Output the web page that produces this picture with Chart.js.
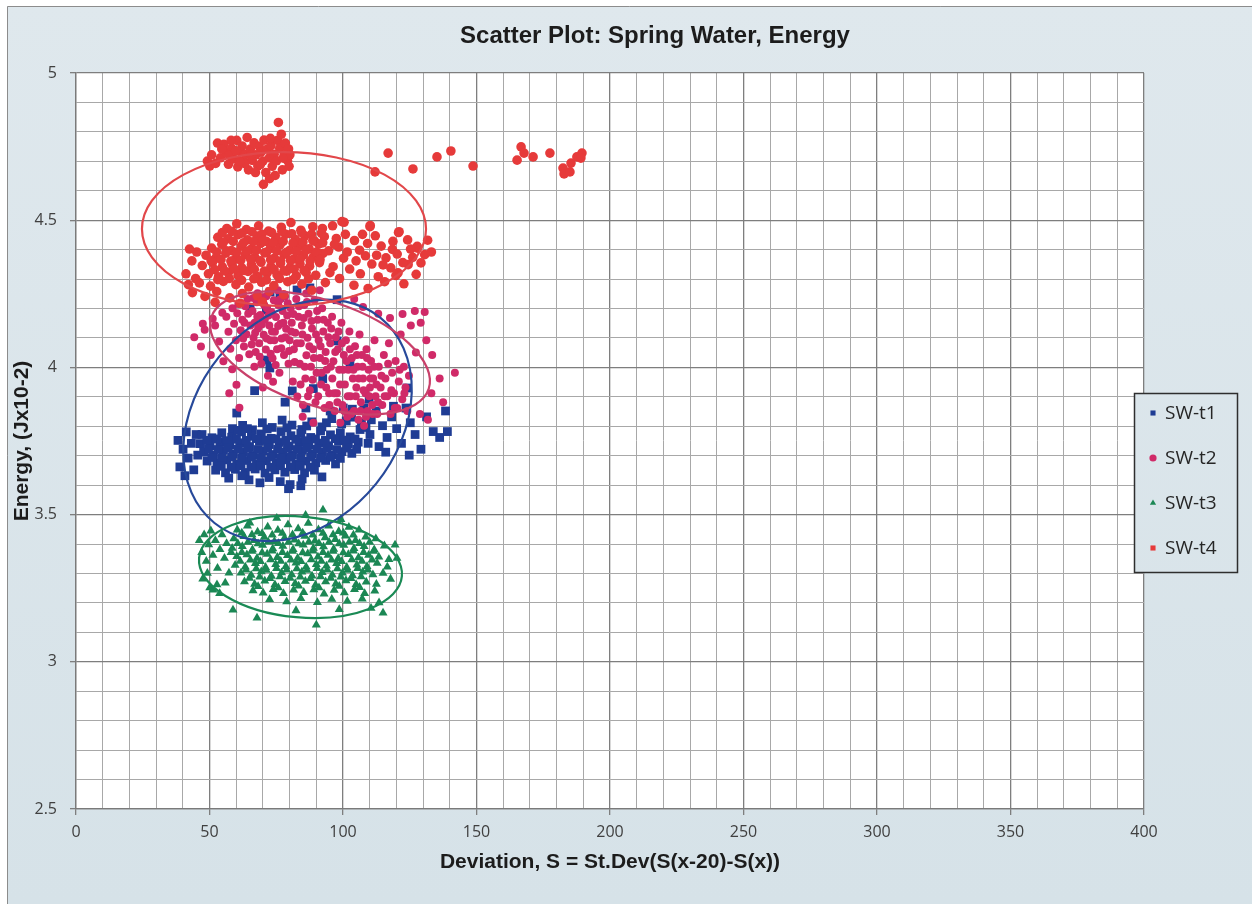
<!DOCTYPE html>
<html>
<head>
<meta charset="utf-8">
<title>Scatter Plot: Spring Water, Energy</title>
<script src="https://cdn.jsdelivr.net/npm/chart.js@4.4.1/dist/chart.umd.min.js"></script>
<style>
  html, body { margin: 0; padding: 0; background: #fff; }
  #wrap { width: 1252px; height: 904px; }
</style>
</head>
<body>
<div id="wrap"><canvas id="chart" width="1252" height="904"></canvas></div>
<script>
// series names, title and the major tick values
const chartTitle = 'Scatter Plot: Spring Water, Energy';
const seriesLabels = ['SW-t1', 'SW-t2', 'SW-t3', 'SW-t4'];
const xMajorTicks = [0, 50, 100, 150, 200, 250, 300, 350, 400];
const yMajorTicks = [2.5, 3, 3.5, 4, 4.5, 5];

// SW-t1 (deviation, energy)
const sw1Points = [
  [38.2,3.752],[38.9,3.662],[40.1,3.722],[41.3,3.781],[42.0,3.692],[43.2,3.742],[44.1,3.652],[45.0,3.772],[45.6,3.702],[40.8,3.632],
  [58.6,3.792],[62.4,3.803],[66.1,3.788],[69.8,3.812],[73.5,3.796],[77.2,3.821],[80.9,3.804],[84.6,3.789],[88.3,3.815],[92.1,3.798],[95.8,3.826],[99.5,3.808],[103.2,3.831],[106.9,3.812],
  [47.2,3.772],[50.9,3.761],[54.6,3.778],[58.3,3.763],[62.0,3.781],[65.7,3.766],[69.4,3.774],[73.1,3.759],[76.8,3.782],[80.5,3.768],[84.2,3.776],[87.9,3.762],[91.6,3.784],[95.3,3.771],[99.0,3.778],[102.7,3.764],[106.4,3.789],[110.1,3.772],
  [46.5,3.741],[50.2,3.733],[53.9,3.748],[57.6,3.736],[61.3,3.744],[65.0,3.731],[68.7,3.749],[72.4,3.738],[76.1,3.745],[79.8,3.732],[83.5,3.748],[87.2,3.736],[90.9,3.743],[94.6,3.734],[98.3,3.751],[102.0,3.739],[105.7,3.746],[109.4,3.742],
  [47.8,3.712],[51.5,3.702],[55.2,3.718],[58.9,3.705],[62.6,3.714],[66.3,3.701],[70.0,3.716],[73.7,3.704],[77.4,3.713],[81.1,3.702],[84.8,3.718],[88.5,3.706],[92.2,3.712],[95.9,3.703],[99.6,3.714],[103.3,3.708],
  [49.1,3.682],[52.8,3.674],[56.5,3.686],[60.2,3.672],[63.9,3.684],[67.6,3.671],[71.3,3.683],[75.0,3.674],[78.7,3.686],[82.4,3.671],[86.1,3.682],[89.8,3.676],[93.5,3.684],[97.2,3.672],
  [52.3,3.651],[56.0,3.642],[59.7,3.654],[63.4,3.643],[67.1,3.655],[70.8,3.641],[74.5,3.652],[78.2,3.644],[81.9,3.653],[85.6,3.642],[89.3,3.651],
  [57.2,3.624],[64.8,3.618],[72.3,3.626],[76.5,3.612],[80.2,3.602],[84.7,3.621],[92.1,3.628],[62.1,3.632],
  [79.6,3.588],[84.2,3.598],[68.9,3.608],
  [49.0,3.752],[52.7,3.757],[56.4,3.751],[60.1,3.756],[63.8,3.752],[67.5,3.758],[71.2,3.753],[74.9,3.757],[78.6,3.752],[82.3,3.756],[86.0,3.751],[89.7,3.757],[93.4,3.752],[97.1,3.758],[100.8,3.753],[104.5,3.757],
  [49.6,3.724],[53.3,3.721],[57.0,3.726],[60.7,3.722],[64.4,3.725],[68.1,3.721],[71.8,3.726],[75.5,3.722],[79.2,3.725],[82.9,3.721],[86.6,3.726],[90.3,3.722],[94.0,3.725],[97.7,3.721],[101.4,3.726],[105.1,3.722],
  [50.9,3.694],[54.6,3.691],[58.3,3.696],[62.0,3.692],[65.7,3.695],[69.4,3.691],[73.1,3.696],[76.8,3.692],[80.5,3.695],[84.2,3.691],[87.9,3.696],[91.6,3.692],[95.3,3.695],[99.0,3.691],
  [54.4,3.664],[58.1,3.661],[61.8,3.666],[65.5,3.662],[69.2,3.665],[72.9,3.661],[76.6,3.666],[80.3,3.662],[84.0,3.665],[87.7,3.661],
  [60.5,3.786],[64.2,3.792],[71.6,3.791],[79.0,3.795],[86.4,3.801],[93.8,3.812],[101.2,3.818],[108.6,3.796],
  [112.4,3.852],[114.8,3.802],[116.5,3.762],[118.2,3.832],[120.1,3.792],[121.9,3.742],[123.6,3.862],[125.2,3.812],[127.0,3.772],[113.5,3.731],
  [118.9,3.868],[107.8,3.862],[110.6,3.822],[103.5,3.858],[129.2,3.722],[131.3,3.832],[133.8,3.782],[136.2,3.762],[138.4,3.852],[139.1,3.782],
  [124.8,3.702],[116.0,3.712],[100.1,3.862],[95.2,3.852],
  [72.7,4.256],[76.4,4.238],[82.8,4.263],[87.6,4.270],[97.8,4.230],[65.2,4.200],[71.3,4.195],[71.5,4.025],[72.6,3.998],[81.0,3.920],
  [88.9,3.928],[97.8,4.090],[124.0,3.930],[66.9,3.921],[92.4,3.962],[78.3,3.882],[86.1,3.862],[60.2,3.845],[102.6,4.012],[109.8,3.892]
];

// SW-t2
const sw2Points = [
  [44.3,4.102],[46.8,4.071],[48.2,4.128],[50.5,4.042],[52.1,4.142],[53.6,4.088],[51.2,4.165],[54.8,4.186],[55.2,4.021],[47.5,4.148],
  [56.3,4.172],[57.1,4.121],[57.8,4.063],[58.6,4.201],[59.2,4.148],[59.9,4.092],[60.4,4.184],[61.1,4.032],[61.7,4.126],[62.3,4.162],
  [62.9,4.071],[63.4,4.208],[63.8,4.113],[64.5,4.182],[64.9,4.045],[65.3,4.142],[57.4,3.912],[61.2,3.863],[60.1,3.941],[58.5,3.994],
  [66.1,4.192],[66.5,4.101],[66.9,4.152],[67.3,4.052],[67.7,4.221],[68.2,4.132],[68.6,4.082],[69.0,4.178],[69.4,4.012],[69.9,4.238],
  [70.3,4.111],[70.7,4.162],[71.1,4.061],[71.5,4.201],[71.9,3.972],[72.4,4.142],[72.8,4.092],[73.2,4.188],[73.6,4.031],[74.1,4.228],
  [74.5,4.121],[74.9,4.171],[75.3,4.062],[75.8,4.212],[76.2,3.982],[76.6,4.148],[77.0,4.098],[77.4,4.192],[77.9,4.042],[78.3,4.241],
  [78.7,4.131],[79.1,4.176],[79.6,4.012],[80.0,4.092],[66.8,4.002],[70.0,3.932],[73.8,3.951],[68.0,4.252],[75.6,4.262],[71.3,4.242],
  [80.4,4.201],[80.8,4.152],[81.2,3.952],[81.6,4.062],[82.1,4.118],[82.5,4.232],[82.9,3.901],[83.3,4.172],[83.8,4.012],[84.2,4.082],
  [84.6,4.142],[85.0,3.872],[85.5,4.212],[85.9,3.962],[86.3,4.041],[86.7,4.101],[87.1,4.182],[87.6,3.922],[88.0,4.002],[88.4,4.132],
  [88.8,4.062],[89.3,4.228],[89.7,3.882],[90.1,3.982],[90.5,4.162],[90.9,4.092],[91.4,4.032],[91.8,3.942],[92.2,4.201],[92.6,4.122],
  [93.1,3.862],[93.5,4.052],[93.9,3.992],[94.3,4.152],[94.8,3.912],[95.2,4.082],[84.9,3.832],[88.9,3.812],[91.3,4.262],[86.2,4.251],
  [95.6,4.132],[96.0,3.962],[96.4,4.021],[96.9,3.852],[97.3,4.102],[97.7,3.912],[98.1,4.062],[98.6,3.992],[99.0,3.812],[99.4,4.152],
  [99.8,3.872],[100.3,4.042],[100.7,3.942],[101.1,4.092],[101.6,3.832],[102.0,3.992],[102.4,4.122],[102.8,3.902],[103.3,4.032],[103.7,3.962],
  [104.1,3.852],[104.5,4.072],[105.0,3.932],[105.4,4.002],[105.8,3.822],[106.2,4.112],[106.7,3.882],[107.1,4.042],[107.5,3.962],[107.9,3.802],
  [108.4,3.912],[108.8,4.062],[109.2,3.852],[109.6,3.992],[110.1,3.932],[110.5,4.022],[110.9,3.872],[111.3,3.962],[111.8,4.092],[112.2,3.902],
  [112.8,3.842],[113.4,4.002],[114.1,3.932],[114.7,3.872],[115.3,4.042],[115.9,3.962],[116.6,3.902],[117.2,4.082],[117.8,3.842],[118.4,3.982],
  [119.1,3.912],[119.7,4.022],[120.3,3.862],[120.9,3.952],[121.6,4.112],[122.2,3.892],[122.8,4.002],[123.4,3.932],[124.1,3.852],[124.7,3.972],
  [60.8,4.215],[62.6,4.098],[63.1,4.152],[64.2,4.232],[65.8,4.078],[66.4,4.236],[67.1,4.118],[67.9,4.172],[68.8,4.036],[69.6,4.146],
  [70.5,4.212],[71.4,4.098],[72.1,4.176],[72.9,4.046],[73.4,4.122],[74.3,4.092],[74.8,4.008],[75.7,4.141],[76.4,4.231],[76.9,4.065],
  [77.7,4.152],[78.4,4.102],[79.3,4.218],[79.8,4.056],[80.6,4.122],[81.4,4.181],[81.9,4.018],[82.7,4.082],[83.5,4.208],[84.1,3.942],
  [84.8,4.112],[85.3,4.168],[85.7,4.002],[86.5,4.222],[86.9,3.902],[87.4,4.072],[88.2,4.158],[88.6,3.958],[89.1,4.032],[89.9,4.112],
  [90.3,4.192],[90.7,3.902],[91.6,4.072],[92.0,3.982],[92.8,4.162],[93.3,4.022],[93.7,3.932],[94.5,4.102],[94.9,3.872],[95.4,4.002],
  [95.9,4.172],[96.7,3.912],[97.1,4.052],[97.9,3.882],[98.3,4.122],[98.9,3.942],[99.6,4.082],[100.1,3.992],[100.5,3.852],[101.3,4.022],
  [101.8,3.902],[102.6,4.062],[103.0,3.842],[103.9,3.992],[104.8,3.902],[105.2,4.042],[105.9,3.962],[106.5,3.852],[107.3,4.002],[107.7,3.922],
  [108.6,3.832],[109.0,4.032],[109.8,3.902],[110.3,3.962],[111.1,3.842],[111.6,4.002],[112.5,3.942],[113.1,3.882],[114.4,3.972],[115.6,3.902],
  [116.9,4.012],[118.1,3.922],[119.4,3.862],[121.2,3.992],[123.0,3.912],
  [126.9,4.192],[130.6,4.188],[129.1,4.152],[131.2,4.092],[133.4,4.042],[136.2,3.962],[133.1,3.912],[128.8,3.842],[141.9,3.982],[137.5,3.882],
  [127.3,4.051],[131.8,3.822],[125.4,4.142],[122.3,4.181],[107.5,4.205],[113.2,4.182],[117.6,4.168],[104.2,4.232]
];

// SW-t3
const sw3Points = [
  [46.2,3.412],[47.1,3.372],[48.0,3.432],[48.8,3.342],[49.7,3.398],[50.5,3.445],[51.3,3.362],[52.2,3.412],[53.0,3.318],[53.9,3.382],
  [54.7,3.432],[55.6,3.352],[56.4,3.402],[57.3,3.302],[58.1,3.372],[47.5,3.282],[50.1,3.252],[49.2,3.301],[52.8,3.262],[55.9,3.268],
  [60.4,3.448],[64.2,3.462],[68.0,3.441],[71.8,3.458],[75.6,3.447],[79.4,3.466],[83.2,3.452],[87.0,3.471],[90.8,3.449],[94.6,3.462],[98.4,3.443],[102.2,3.457],[106.0,3.448],
  [59.1,3.418],[62.9,3.426],[66.7,3.412],[70.5,3.423],[74.3,3.409],[78.1,3.421],[81.9,3.414],[85.7,3.427],[89.5,3.411],[93.3,3.422],[97.1,3.416],[100.9,3.428],[104.7,3.412],[108.5,3.424],[112.3,3.418],
  [58.5,3.386],[62.3,3.392],[66.1,3.381],[69.9,3.396],[73.7,3.384],[77.5,3.393],[81.3,3.382],[85.1,3.397],[88.9,3.386],[92.7,3.391],[96.5,3.383],[100.3,3.396],[104.1,3.385],[107.9,3.392],[111.7,3.381],[115.5,3.394],
  [60.2,3.358],[64.0,3.364],[67.8,3.352],[71.6,3.366],[75.4,3.355],[79.2,3.361],[83.0,3.352],[86.8,3.367],[90.6,3.356],[94.4,3.362],[98.2,3.351],[102.0,3.365],[105.8,3.354],[109.6,3.362],[113.4,3.356],[117.2,3.348],
  [59.6,3.328],[63.4,3.322],[67.2,3.334],[71.0,3.321],[74.8,3.331],[78.6,3.324],[82.4,3.336],[86.2,3.322],[90.0,3.331],[93.8,3.326],[97.6,3.334],[101.4,3.321],[105.2,3.329],[109.0,3.324],[112.8,3.335],[116.6,3.322],
  [61.8,3.302],[65.6,3.294],[69.4,3.306],[73.2,3.291],[77.0,3.303],[80.8,3.296],[84.6,3.305],[88.4,3.292],[92.2,3.304],[96.0,3.295],[99.8,3.302],[103.6,3.293],[107.4,3.305],[111.2,3.296],[115.0,3.301],
  [63.1,3.272],[66.9,3.264],[70.7,3.275],[74.5,3.262],[78.3,3.273],[82.1,3.266],[85.9,3.274],[89.7,3.261],[93.5,3.272],[97.3,3.265],[101.1,3.276],[104.9,3.263],[108.7,3.271],[112.5,3.264],
  [66.3,3.242],[70.1,3.234],[73.9,3.246],[77.7,3.232],[81.5,3.244],[85.3,3.236],[89.1,3.245],[92.9,3.231],[96.7,3.243],[100.5,3.235],[104.3,3.246],[108.1,3.232],[111.9,3.241],
  [72.5,3.212],[78.9,3.204],[84.2,3.215],[90.4,3.202],[95.8,3.213],[101.6,3.206],[107.2,3.214],[113.5,3.201],
  [62.1,3.438],[65.9,3.432],[69.7,3.436],[73.5,3.431],[77.3,3.437],[81.1,3.432],[84.9,3.438],[88.7,3.431],[92.5,3.437],[96.3,3.432],[100.1,3.438],[103.9,3.431],
  [60.6,3.402],[64.4,3.406],[68.2,3.401],[72.0,3.407],[75.8,3.402],[79.6,3.406],[83.4,3.401],[87.2,3.407],[91.0,3.402],[94.8,3.406],[98.6,3.401],[102.4,3.407],[106.2,3.402],[110.0,3.406],
  [62.1,3.372],[65.9,3.376],[69.7,3.371],[73.5,3.377],[77.3,3.372],[81.1,3.376],[84.9,3.371],[88.7,3.377],[92.5,3.372],[96.3,3.376],[100.1,3.371],[103.9,3.377],[107.7,3.372],[111.5,3.376],
  [61.5,3.342],[65.3,3.346],[69.1,3.341],[72.9,3.347],[76.7,3.342],[80.5,3.346],[84.3,3.341],[88.1,3.347],[91.9,3.342],[95.7,3.346],[99.5,3.341],[103.3,3.347],[107.1,3.342],[110.9,3.346],
  [63.7,3.312],[67.5,3.316],[71.3,3.311],[75.1,3.317],[78.9,3.312],[82.7,3.316],[86.5,3.311],[90.3,3.317],[94.1,3.312],[97.9,3.316],[101.7,3.311],[105.5,3.317],[109.3,3.312],
  [65.0,3.284],[68.8,3.288],[72.6,3.283],[76.4,3.289],[80.2,3.284],[84.0,3.288],[87.8,3.283],[91.6,3.289],[95.4,3.284],[99.2,3.288],[103.0,3.283],[106.8,3.289],
  [68.2,3.256],[75.8,3.252],[83.4,3.258],[91.0,3.252],[98.6,3.257],[106.2,3.253],
  [92.5,3.516],[86.0,3.498],[75.2,3.488],[58.8,3.176],[67.8,3.149],[90.0,3.125],[115.0,3.166],[119.5,3.397],[51.3,3.244],[53.8,3.232],
  [117.8,3.281],[120.2,3.352],[110.5,3.182],[98.6,3.178],[82.4,3.174],[99.2,3.484],[65.1,3.472]
];

// SW-t4
const sw4Points = [
  [49.2,4.701],[50.1,4.684],[50.8,4.722],[52.3,4.693],[53.0,4.762],[54.1,4.712],[55.4,4.758],[56.2,4.731],[57.1,4.690],[58.3,4.744],
  [59.0,4.708],[60.2,4.771],[60.6,4.681],[61.4,4.733],[62.2,4.752],[62.8,4.702],[63.5,4.724],[64.1,4.781],[64.6,4.671],[65.3,4.742],
  [66.0,4.703],[66.7,4.763],[67.4,4.722],[68.1,4.684],[68.6,4.751],[69.3,4.731],[70.0,4.701],[70.4,4.772],[71.1,4.662],[71.7,4.742],
  [72.4,4.712],[73.0,4.753],[73.5,4.683],[74.2,4.724],[75.1,4.702],[75.5,4.771],[76.3,4.744],[75.8,4.832],[76.9,4.792],[77.3,4.671],
  [78.0,4.722],[78.4,4.762],[79.2,4.703],[79.6,4.742],[80.1,4.722],[79.8,4.683],[70.2,4.622],[72.5,4.641],[74.6,4.652],[58.1,4.771],
  [63.2,4.692],[67.2,4.662],[65.6,4.721],[61.3,4.700],[69.1,4.690],[57.4,4.720],[54.6,4.742],[59.8,4.736],[77.6,4.711],[72.8,4.778],
  [112.0,4.664],[116.9,4.728],[126.2,4.674],[135.2,4.715],[140.4,4.735],[148.7,4.684],[165.2,4.704],[166.7,4.749],[167.8,4.728],
  [171.2,4.715],[177.5,4.728],[182.4,4.677],[182.8,4.657],[185.0,4.664],[185.4,4.694],[187.6,4.715],[189.5,4.728],[189.1,4.711],
  [56.5,4.472],[60.2,4.488],[63.8,4.468],[68.4,4.481],[72.1,4.463],[76.9,4.476],[80.5,4.492],[84.2,4.466],[88.7,4.478],[92.3,4.472],
  [96.1,4.481],[100.4,4.493],[110.2,4.482],[121.0,4.461],
  [53.1,4.442],[56.9,4.437],[60.7,4.451],[64.2,4.433],[67.8,4.446],[71.3,4.428],[74.9,4.441],[78.5,4.452],[82.2,4.434],[85.7,4.447],
  [89.4,4.429],[93.0,4.444],[97.5,4.438],[104.3,4.431],[112.1,4.447],[124.2,4.433],
  [50.8,4.405],[54.6,4.418],[58.2,4.397],[61.9,4.412],[65.5,4.401],[69.2,4.421],[72.8,4.404],[76.4,4.416],[80.1,4.398],[83.7,4.412],
  [87.3,4.403],[90.9,4.419],[94.6,4.396],[98.4,4.409],[106.2,4.398],[114.3,4.412],[118.5,4.401],[127.8,4.411],
  [48.7,4.381],[52.4,4.372],[56.1,4.388],[59.8,4.369],[63.4,4.383],[67.0,4.374],[70.7,4.389],[74.3,4.371],[77.9,4.384],[81.6,4.368],
  [85.2,4.382],[88.9,4.375],[92.5,4.387],[100.2,4.371],[108.4,4.379],[116.1,4.372],[120.3,4.385],[126.1,4.374],[130.6,4.383],
  [47.3,4.346],[51.1,4.356],[54.8,4.341],[58.4,4.352],[62.1,4.338],[65.7,4.349],[69.3,4.357],[73.0,4.342],[76.6,4.353],[80.2,4.339],
  [83.9,4.351],[87.5,4.344],[91.2,4.356],[96.3,4.342],[102.5,4.334],[110.8,4.351],[117.9,4.338],[124.4,4.349],[129.2,4.355],
  [49.6,4.318],[53.4,4.308],[57.1,4.323],[60.7,4.312],[64.4,4.326],[68.0,4.309],[71.6,4.321],[75.3,4.314],[78.9,4.327],[82.5,4.311],
  [86.2,4.322],[89.8,4.313],[98.7,4.302],[106.5,4.318],[113.2,4.308],[120.6,4.321],[127.4,4.316],
  [46.2,4.287],[50.4,4.276],[55.2,4.292],[59.9,4.281],[64.7,4.273],[69.5,4.289],[74.1,4.278],[79.3,4.291],[84.6,4.283],[93.4,4.288],
  [104.1,4.279],[115.6,4.291],[122.8,4.284],
  [43.6,4.254],[48.3,4.241],[52.7,4.258],[57.6,4.236],[62.3,4.251],[67.9,4.243],[72.4,4.258],[77.8,4.247],[88.3,4.262],[109.4,4.268],
  [52.1,4.221],[61.5,4.218],[69.8,4.223],
  [41.2,4.318],[42.1,4.281],[43.4,4.362],[44.8,4.302],[45.2,4.392],[42.5,4.402],
  [99.6,4.495],[110.1,4.478],[120.8,4.458],[127.9,4.405],[131.7,4.432],[133.1,4.392],
  [54.8,4.458],[58.4,4.462],[62.1,4.456],[65.9,4.461],[69.6,4.452],[73.3,4.458],[77.1,4.462],[80.8,4.454],[84.5,4.458],[88.2,4.452],[91.9,4.456],
  [55.2,4.425],[58.9,4.428],[62.7,4.423],[66.4,4.427],[70.1,4.431],[73.8,4.424],[77.6,4.428],[81.3,4.422],[85.0,4.426],[88.7,4.431],[92.4,4.423],
  [52.7,4.392],[56.4,4.396],[60.2,4.391],[63.9,4.394],[67.6,4.398],[71.4,4.392],[75.1,4.396],[78.8,4.391],[82.5,4.394],[86.2,4.398],[90.1,4.392],
  [50.6,4.362],[54.3,4.366],[58.0,4.361],[61.7,4.364],[65.4,4.368],[69.1,4.362],[72.9,4.366],[76.6,4.361],[80.3,4.364],[84.0,4.368],[87.7,4.362],[91.4,4.366],
  [51.9,4.332],[55.6,4.328],[59.3,4.334],[63.0,4.329],[66.8,4.333],[70.5,4.327],[74.2,4.332],[77.9,4.328],[81.7,4.333],[85.4,4.329],
  [53.1,4.298],[57.4,4.302],[62.0,4.296],[66.6,4.301],[71.3,4.297],[76.2,4.302],[81.4,4.298],[87.1,4.301],
  [96.8,4.418],[101.6,4.392],[104.9,4.362],[109.2,4.421],[112.6,4.381],[115.0,4.348],[118.7,4.428],[122.4,4.356],[125.3,4.402],
  [100.9,4.452],[107.3,4.452],[95.1,4.322],[119.8,4.312]
];

// ellipses drawn round each group: centre and two conjugate half-axes, in data units
const ellipses = [
  { label: 'SW-t1', c: [82.96, 3.820], u: [31.1, 0.3485], v: [29.4, -0.2157] },
  { label: 'SW-t2', c: [91.4, 4.049], u: [40.7, -0.1220], v: [-6.18, -0.1695] },
  { label: 'SW-t3', c: [84.08, 3.322], u: [37.98, -0.0313], v: [-1.72, -0.1705] },
  { label: 'SW-t4', c: [77.9, 4.470], u: [53.2, 0], v: [0, 0.2615] }
];

const pointColors = ['#1f3c94', '#d02a68', '#1b8754', '#e63a3a'];
const ellipseColors = ['#27499a', '#c9406a', '#1a8a55', '#e2474a'];
const pointShapes = ['rect', 'circle', 'triangle', 'circle'];
const pointSizes = [6.2, 4.0, 5.2, 4.8];
const legendShapes = ['rect', 'circle', 'triangle', 'rect'];

const isMajor = (list, v) => list.some(t => Math.abs(t - v) < 1e-6);

function backdropFill(ctx, h) {
  const g = ctx.createLinearGradient(0, 0, 0, h);
  g.addColorStop(0, '#dfe8ed');
  g.addColorStop(1, '#d6e2e8');
  return g;
}

const backdrop = {
  id: 'backdrop',
  beforeDraw(chart) {
    const { ctx, width, height, chartArea: a } = chart;
    ctx.save();
    ctx.fillStyle = '#ffffff';
    ctx.fillRect(0, 0, width, height);
    ctx.fillStyle = backdropFill(ctx, height);
    ctx.fillRect(7, 6, width - 7, height - 6);
    ctx.strokeStyle = '#8c8c8c';
    ctx.lineWidth = 1;
    ctx.beginPath();
    ctx.moveTo(7.5, height);
    ctx.lineTo(7.5, 6.5);
    ctx.lineTo(width, 6.5);
    ctx.stroke();
    ctx.fillStyle = '#ffffff';
    ctx.fillRect(a.left, a.top, a.right - a.left, a.bottom - a.top);
    ctx.restore();
  }
};

// title sits right of the canvas centre in the original, so it is drawn here
const titleText = {
  id: 'titleText',
  afterDraw(chart) {
    const { ctx, chartArea: a } = chart;
    ctx.save();
    ctx.font = 'bold 24px "Liberation Sans", Arial, sans-serif';
    ctx.fillStyle = '#1c1c1c';
    ctx.textAlign = 'center';
    ctx.textBaseline = 'middle';
    ctx.fillText(chartTitle, (a.left + a.right) / 2 + 45, a.top - 37);
    ctx.restore();
  }
};

const groupEllipses = {
  id: 'groupEllipses',
  afterDatasetsDraw(chart) {
    const { ctx, scales: { x, y } } = chart;
    ellipses.forEach((e, i) => {
      const cx = x.getPixelForValue(e.c[0]);
      const cy = y.getPixelForValue(e.c[1]);
      const ux = x.getPixelForValue(e.c[0] + e.u[0]) - cx;
      const uy = y.getPixelForValue(e.c[1] + e.u[1]) - cy;
      const vx = x.getPixelForValue(e.c[0] + e.v[0]) - cx;
      const vy = y.getPixelForValue(e.c[1] + e.v[1]) - cy;
      ctx.save();
      ctx.beginPath();
      ctx.save();
      ctx.transform(ux, uy, vx, vy, cx, cy);
      ctx.arc(0, 0, 1, 0, Math.PI * 2);
      ctx.restore();
      ctx.strokeStyle = ellipseColors[i];
      ctx.lineWidth = 2.2;
      ctx.stroke();
      ctx.restore();
    });
  }
};

const legendBox = {
  id: 'legendBox',
  afterDraw(chart) {
    const { ctx, chartArea: a, height } = chart;
    const left = a.right - 10, top = a.top + 320, w = 103, h = 179;
    ctx.save();
    ctx.fillStyle = backdropFill(ctx, height);
    ctx.fillRect(left, top, w, h);
    ctx.strokeStyle = '#2e2e2e';
    ctx.lineWidth = 1.5;
    ctx.strokeRect(left + 0.5, top + 0.5, w, h);
    ctx.font = '19px "Open Sans"';
    ctx.textBaseline = 'middle';
    chart.data.datasets.forEach((ds, i) => {
      const yy = top + 20 + i * 45;
      ctx.fillStyle = ds.backgroundColor;
      Chart.helpers.drawPoint(ctx, { pointStyle: legendShapes[i], radius: 3.6, rotation: 0, borderWidth: 0 }, left + 19, yy);
      ctx.fillStyle = '#262626';
      ctx.fillText(ds.label, left + 31, yy + 1);
    });
    ctx.restore();
  }
};

const seriesPoints = [sw1Points, sw2Points, sw3Points, sw4Points];

const datasets = seriesPoints.map((pts, i) => ({
  label: seriesLabels[i],
  data: pts.map(p => ({ x: p[0], y: p[1] })),
  backgroundColor: pointColors[i],
  borderColor: pointColors[i],
  borderWidth: 0,
  pointStyle: pointShapes[i],
  pointRadius: pointSizes[i],
  showLine: false,
  order: 4 - i
}));

const tickFont = { family: '"Open Sans", sans-serif', size: 16 };
const titleFont = { family: '"Liberation Sans", Arial, sans-serif', size: 21, weight: 'bold' };

new Chart(document.getElementById('chart'), {
  type: 'scatter',
  data: { datasets },
  options: {
    responsive: false,
    animation: false,
    events: [],
    layout: { padding: { left: 8, right: 108, top: 73, bottom: 20 } },
    plugins: {
      legend: { display: false },
      tooltip: { enabled: false },
      title: { display: false }
    },
    scales: {
      x: {
        type: 'linear',
        min: 0,
        max: 400,
        afterFit(s) { s.height = 75; },
        ticks: {
          stepSize: 10,
          autoSkip: false,
          maxRotation: 0,
          padding: 8,
          color: '#404040',
          font: tickFont,
          callback: v => isMajor(xMajorTicks, v) ? String(v) : ''
        },
        grid: {
          color: c => isMajor(xMajorTicks, c.tick.value) ? '#7e7e7e' : '#a8a8a8',
          lineWidth: c => isMajor(xMajorTicks, c.tick.value) ? 1.3 : 1,
          tickColor: c => isMajor(xMajorTicks, c.tick.value) ? '#7e7e7e' : 'rgba(0,0,0,0)',
          tickLength: 6
        },
        border: { color: '#7a7a7a', width: 1.3 },
        title: {
          display: true,
          text: 'Deviation, S = St.Dev(S(x-20)-S(x))',
          color: '#1c1c1c',
          font: titleFont,
          padding: { top: 0, bottom: 9.4 }
        }
      },
      y: {
        type: 'linear',
        min: 2.5,
        max: 5,
        afterFit(s) { s.width = 68; },
        ticks: {
          stepSize: 0.1,
          autoSkip: false,
          padding: 13,
          color: '#404040',
          font: tickFont,
          callback: v => isMajor(yMajorTicks, v) ? String(Math.round(v * 10) / 10) : ''
        },
        grid: {
          color: c => isMajor(yMajorTicks, c.tick.value) ? '#7e7e7e' : '#a8a8a8',
          lineWidth: c => isMajor(yMajorTicks, c.tick.value) ? 1.3 : 1,
          tickColor: c => isMajor(yMajorTicks, c.tick.value) ? '#7e7e7e' : 'rgba(0,0,0,0)',
          tickLength: 6
        },
        border: { color: '#7a7a7a', width: 1.3 },
        title: {
          display: true,
          text: 'Energy, (Jx10-2)',
          color: '#1c1c1c',
          font: titleFont,
          padding: { top: 1.4, bottom: 0 }
        }
      }
    }
  },
  plugins: [backdrop, groupEllipses, legendBox, titleText]
});
</script>
</body>
</html>
